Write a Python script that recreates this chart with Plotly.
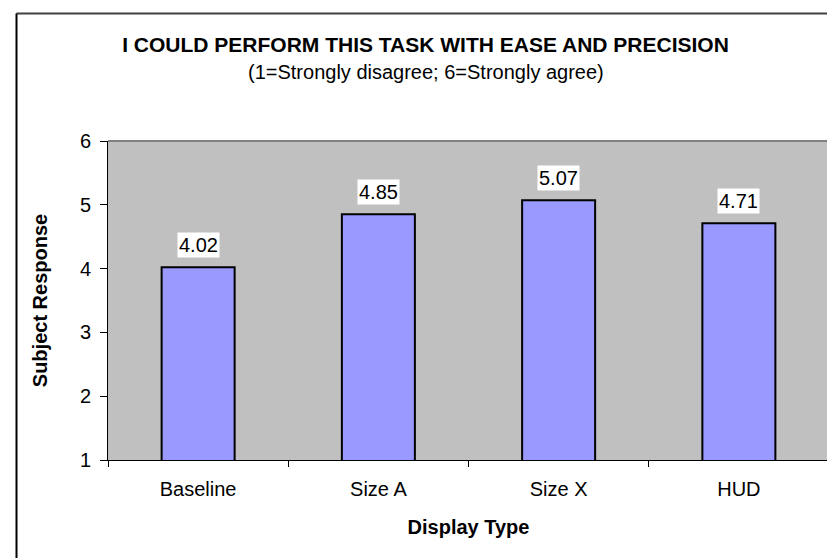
import plotly.graph_objects as go

categories = ["Baseline", "Size A", "Size X", "HUD"]
values = [4.02, 4.85, 5.07, 4.71]
value_labels = ["4.02", "4.85", "5.07", "4.71"]
y_ticks = [1, 2, 3, 4, 5, 6]

FONT = "Arial, 'Liberation Sans', sans-serif"

fig = go.Figure()
fig.add_trace(go.Bar(
    x=categories, y=values, base=0,
    width=0.405,
    marker=dict(color="#9999FF", line=dict(color="black", width=2)),
    showlegend=False, hoverinfo="x+y",
))

for c, v, t in zip(categories, values, value_labels):
    fig.add_annotation(x=c, y=v, text=t, showarrow=False, xref="x", yref="y",
                       yanchor="bottom", yshift=9, bgcolor="white", borderpad=1,
                       font=dict(family=FONT, size=20, color="black"))

fig.add_annotation(text="(1=Strongly disagree; 6=Strongly agree)", xref="paper", yref="paper",
                   x=(418 - 100) / 721, y=(452 - 64) / 319, xanchor="center", yanchor="middle",
                   showarrow=False, font=dict(family=FONT, size=20, color="black"))

# plot-area border (top and right, gray)
fig.add_shape(type="line", xref="paper", yref="paper", x0=0, x1=1, y0=1, y1=1,
              line=dict(color="#808080", width=2))
fig.add_shape(type="line", xref="paper", yref="paper", x0=1, x1=1, y0=0, y1=1,
              line=dict(color="#808080", width=2))
# chart outer border (top and left)
fig.add_shape(type="line", xref="paper", yref="paper", x0=(8.5 - 100) / 721, x1=1.03,
              y0=(452 - 5.5) / 319, y1=(452 - 5.5) / 319, line=dict(color="#404040", width=2))
fig.add_shape(type="line", xref="paper", yref="paper", x0=(8.5 - 100) / 721, x1=(8.5 - 100) / 721,
              y0=(452 - 5.5) / 319, y1=-0.4, line=dict(color="black", width=2))

fig.update_layout(
    width=835, height=558,
    margin=dict(l=100, r=14, t=133, b=106, autoexpand=False),
    paper_bgcolor="white", plot_bgcolor="#C0C0C0",
    font=dict(family=FONT, size=20, color="black"),
    title=dict(text="<b>I COULD PERFORM THIS TASK WITH EASE AND PRECISION</b>",
               x=0.5, xanchor="center", xref="container",
               y=1 - 37 / 558, yanchor="middle", yref="container",
               font=dict(family=FONT, size=21, color="black")),
    bargap=0.595,
)
fig.update_xaxes(
    showgrid=False, showline=True, linecolor="black", linewidth=1,
    ticks="outside", tickson="boundaries", ticklen=6, tickcolor="black",
    ticklabelstandoff=11,
    tickfont=dict(family=FONT, size=20), automargin=False,
    title=dict(text="<b>Display Type</b>", font=dict(family=FONT, size=20), standoff=20),
)
fig.update_yaxes(
    range=[1, 6], tickvals=y_ticks, showgrid=False, zeroline=False,
    showline=True, linecolor="black", linewidth=1,
    ticks="outside", ticklen=7, tickcolor="black",
    ticklabelstandoff=5,
    tickfont=dict(family=FONT, size=20), automargin=False,
    title=dict(text="<b>Subject Response</b>", font=dict(family=FONT, size=20), standoff=26),
)

fig.write_html("out.html")
